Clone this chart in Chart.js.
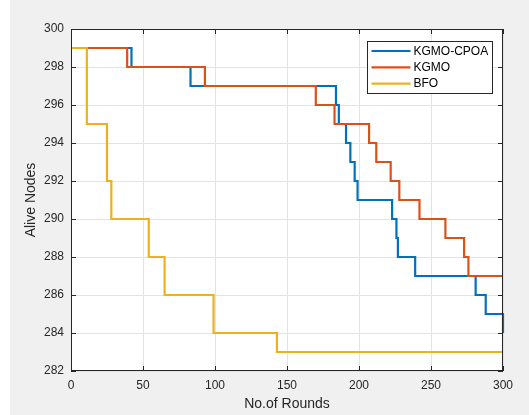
<!DOCTYPE html>
<html>
<head>
<meta charset="utf-8">
<script src="https://cdn.jsdelivr.net/npm/chart.js@4/dist/chart.umd.min.js"></script>
<style>
  html, body { margin: 0; padding: 0; background: #f0f0f0; }
  #wrap { width: 529px; height: 415px; position: relative; }
  canvas { display: block; }
</style>
</head>
<body>
<div id="wrap"><canvas id="c" width="529" height="415"></canvas></div>
<script>
// ---- data ----
const seriesNames = ['KGMO-CPOA', 'KGMO', 'BFO'];
const seriesColors = ['#0072BD', '#D95319', '#EDB120'];

const cpoaRounds = [0, 42, 83, 184, 186, 191, 194, 197, 199, 223, 226, 227, 239, 281, 288, 300];
const cpoaNodes  = [299, 298, 297, 296, 295, 294, 293, 292, 291, 290, 289, 288, 287, 286, 285, 284];

const kgmoRounds = [0, 39, 93, 170, 183, 207, 212, 222, 228, 242, 260, 273, 276, 300];
const kgmoNodes  = [299, 298, 297, 296, 295, 294, 293, 292, 291, 290, 289, 288, 287, 287];

const bfoRounds = [0, 11, 25, 28, 54, 65, 99, 143, 300];
const bfoNodes  = [299, 295, 292, 290, 288, 286, 284, 283, 283];

const xTicks = [0, 50, 100, 150, 200, 250, 300];
const yTicks = [282, 284, 286, 288, 290, 292, 294, 296, 298, 300];

const toPts = (xs, ys) => xs.map((x, i) => ({ x: x, y: ys[i] }));
const allRounds = [cpoaRounds, kgmoRounds, bfoRounds];
const allNodes = [cpoaNodes, kgmoNodes, bfoNodes];

const FONT = '"Liberation Sans", Arial, Helvetica, sans-serif';
const AXIS_COLOR = '#262626';

const bgPlugin = {
  id: 'bg',
  beforeDraw(chart) {
    const { ctx, chartArea: a } = chart;
    ctx.save();
    ctx.fillStyle = '#f0f0f0';
    ctx.fillRect(0, 0, chart.width, chart.height);
    ctx.fillStyle = '#ffffff';
    ctx.fillRect(0, 0, 10, chart.height);
    ctx.fillRect(a.left, a.top, a.right - a.left, a.bottom - a.top);
    ctx.restore();
  },
  afterDraw(chart) {
    const { ctx, chartArea: a, scales } = chart;
    ctx.save();
    // box
    ctx.strokeStyle = AXIS_COLOR;
    ctx.lineWidth = 1;
    ctx.strokeRect(Math.round(a.left) + 0.5, Math.round(a.top) + 0.5,
                   Math.round(a.right - a.left) - 1, Math.round(a.bottom - a.top) - 1);
    // inward ticks
    const tl = 5;
    ctx.beginPath();
    xTicks.forEach(v => {
      const px = Math.round(scales.x.getPixelForValue(v)) + 0.5;
      ctx.moveTo(px, a.bottom); ctx.lineTo(px, a.bottom - tl);
      ctx.moveTo(px, a.top); ctx.lineTo(px, a.top + tl);
    });
    yTicks.forEach(v => {
      const py = Math.round(scales.y.getPixelForValue(v)) + 0.5;
      ctx.moveTo(a.left, py); ctx.lineTo(a.left + tl, py);
      ctx.moveTo(a.right, py); ctx.lineTo(a.right - tl, py);
    });
    ctx.stroke();

    // legend
    const lw = 125, lh = 52;
    const lx = Math.round(a.right - 11 - lw) + 0.5;
    const ly = Math.round(a.top + 11.5) + 0.5;
    ctx.fillStyle = '#ffffff';
    ctx.fillRect(lx, ly, lw, lh);
    ctx.strokeStyle = AXIS_COLOR;
    ctx.lineWidth = 1;
    ctx.strokeRect(lx, ly, lw, lh);
    ctx.font = '12px ' + FONT;
    ctx.textBaseline = 'middle';
    ctx.textAlign = 'left';
    chart.data.datasets.forEach((ds, i) => {
      const y = ly + 9.5 + i * 16.3;
      ctx.strokeStyle = ds.borderColor;
      ctx.lineWidth = 2.2;
      ctx.beginPath();
      ctx.moveTo(lx + 4, y); ctx.lineTo(lx + 43, y);
      ctx.stroke();
      ctx.fillStyle = '#000000';
      ctx.fillText(ds.label, lx + 46, y + 0.5);
    });
    ctx.restore();
  }
};

new Chart(document.getElementById('c'), {
  type: 'line',
  data: {
    datasets: seriesNames.map((name, i) => ({
      label: name,
      data: toPts(allRounds[i], allNodes[i]),
      borderColor: seriesColors[i],
      backgroundColor: seriesColors[i],
      borderWidth: 2.2,
      pointRadius: 0,
      stepped: true,
      fill: false,
      clip: 4,
      order: 2 - i
    }))
  },
  options: {
    responsive: false,
    animation: false,
    events: [],
    layout: { padding: { top: 29, right: 26, left: 0, bottom: 0 } },
    plugins: { legend: { display: false }, tooltip: { enabled: false } },
    scales: {
      x: {
        type: 'linear',
        min: 0, max: 300,
        afterBuildTicks: s => { s.ticks = xTicks.map(v => ({ value: v })); },
        afterFit: s => { s.height = 44; },
        grid: { color: '#e3e3e3', drawTicks: false, lineWidth: 1 },
        border: { display: false },
        ticks: { color: AXIS_COLOR, font: { family: FONT, size: 12 }, padding: 7, maxRotation: 0 },
        title: { display: true, text: 'No.of Rounds', color: AXIS_COLOR, font: { family: FONT, size: 14 }, padding: { top: 0, bottom: 2.6 } }
      },
      y: {
        type: 'linear',
        min: 282, max: 300,
        afterBuildTicks: s => { s.ticks = yTicks.map(v => ({ value: v })); },
        afterFit: s => { s.width = 71; },
        grid: { color: '#e3e3e3', drawTicks: false, lineWidth: 1 },
        border: { display: false },
        ticks: { color: AXIS_COLOR, font: { family: FONT, size: 12 }, padding: 7 },
        title: { display: true, text: 'Alive Nodes', color: AXIS_COLOR, font: { family: FONT, size: 14 }, padding: { top: 22.6, bottom: 0 } }
      }
    }
  },
  plugins: [bgPlugin]
});
</script>
</body>
</html>
